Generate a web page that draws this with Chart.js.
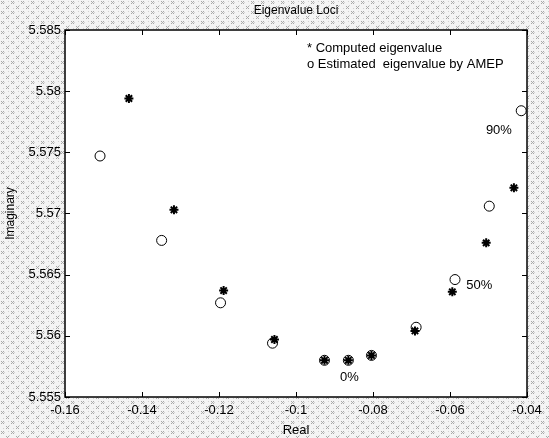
<!DOCTYPE html>
<html>
<head>
<meta charset="utf-8">
<script src="https://cdn.jsdelivr.net/npm/chart.js@4.4.1/dist/chart.umd.min.js"></script>
<style>
  html, body { margin: 0; padding: 0; background: #fff; }
  #wrap { width: 549px; height: 438px; }
</style>
</head>
<body>
<div id="wrap"><canvas id="loci" width="549" height="438"></canvas></div>
<script>
// computed eigenvalues (*)
const computedRe = [-0.1434, -0.1317, -0.1188, -0.1056, -0.0926, -0.0864, -0.0804, -0.0691, -0.0594, -0.0506, -0.0434];
const computedIm = [5.5794, 5.5703, 5.5637, 5.5597, 5.5580, 5.5580, 5.5584, 5.5604, 5.5636, 5.5676, 5.5721];

// estimated eigenvalues by AMEP (o)
const estimatedRe = [-0.1509, -0.1349, -0.1196, -0.1061, -0.0926, -0.0864, -0.0804, -0.0688, -0.0587, -0.0498, -0.0415];
const estimatedIm = [5.5747, 5.5678, 5.5627, 5.5594, 5.5580, 5.5580, 5.5584, 5.5607, 5.5646, 5.5706, 5.5784];

// percentage labels on the curve
const pctText = ['90%', '50%', '0%'];
const pctRe = [-0.0473, -0.0524, -0.0861];
const pctIm = [5.5768, 5.5641, 5.5566];

const legendLines = ['* Computed eigenvalue', 'o Estimated  eigenvalue by AMEP'];

const realRange = [-0.16, -0.04, 0.02];
const imagRange = [5.555, 5.585, 0.005];

const toPoints = (xs, ys) => xs.map((x, i) => ({ x, y: ys[i] }));
const fmt = (v) => String(Number(v.toFixed(4)));

// scanned-paper look of the figure background
function makeDither() {
  const c = document.createElement('canvas');
  c.width = 10;
  c.height = 10;
  const g = c.getContext('2d');
  g.fillStyle = '#f4f4f4';
  g.fillRect(0, 0, 10, 10);
  g.fillStyle = '#a8a8a8';
  [[1, 1], [6, 6]].forEach(([ox, oy]) => {
    [[0, 0], [2, 0], [1, 1], [0, 2], [2, 2]].forEach(([dx, dy]) => g.fillRect(ox + dx, oy + dy, 1, 1));
  });
  g.fillStyle = '#d0d0d0';
  [[4, 2], [8, 1], [3, 8], [9, 5]].forEach(([px, py]) => g.fillRect(px, py, 1, 1));
  return c;
}

const matlabFrame = {
  id: 'matlabFrame',
  beforeDraw(chart) {
    const { ctx, chartArea: a } = chart;
    ctx.save();
    ctx.fillStyle = ctx.createPattern(makeDither(), 'repeat');
    ctx.fillRect(0, 0, chart.width, chart.height);
    ctx.fillStyle = '#fff';
    ctx.fillRect(a.left, a.top, a.right - a.left, a.bottom - a.top);
    ctx.restore();
  },
  afterDraw(chart) {
    const { ctx, chartArea: a, scales: { x, y } } = chart;
    ctx.save();
    ctx.strokeStyle = '#000';
    ctx.lineWidth = 1.5;
    ctx.strokeRect(a.left, a.top, a.right - a.left, a.bottom - a.top);

    // inward ticks on all four sides
    ctx.lineWidth = 1;
    ctx.beginPath();
    x.ticks.forEach((t) => {
      const px = Math.round(x.getPixelForValue(t.value)) + 0.5;
      ctx.moveTo(px, a.bottom); ctx.lineTo(px, a.bottom - 5);
      ctx.moveTo(px, a.top); ctx.lineTo(px, a.top + 5);
    });
    y.ticks.forEach((t) => {
      const py = Math.round(y.getPixelForValue(t.value)) + 0.5;
      ctx.moveTo(a.left, py); ctx.lineTo(a.left + 5, py);
      ctx.moveTo(a.right, py); ctx.lineTo(a.right - 5, py);
    });
    ctx.stroke();

    ctx.fillStyle = '#000';
    ctx.font = '12px Arial, "Liberation Sans"';
    ctx.textAlign = 'center';
    ctx.textBaseline = 'middle';
    ctx.fillText('Eigenvalue Loci', (a.left + a.right) / 2, 11);

    ctx.font = '13px Arial, "Liberation Sans"';
    pctText.forEach((s, i) => {
      ctx.fillText(s, x.getPixelForValue(pctRe[i]), y.getPixelForValue(pctIm[i]));
    });

    ctx.textAlign = 'left';
    legendLines.forEach((s, i) => {
      ctx.fillText(s, 307, 48 + i * 16);
    });
    ctx.restore();
  },
};

new Chart(document.getElementById('loci'), {
  type: 'scatter',
  data: {
    datasets: [
      {
        label: 'Estimated eigenvalue by AMEP',
        data: toPoints(estimatedRe, estimatedIm),
        pointStyle: 'circle',
        pointRadius: 5,
        borderWidth: 1,
        borderColor: '#000',
        backgroundColor: 'rgba(0,0,0,0)',
      },
      {
        label: 'Computed eigenvalue',
        data: toPoints(computedRe, computedIm),
        pointStyle: 'star',
        pointRadius: 4.5,
        borderWidth: 2,
        borderColor: '#000',
        backgroundColor: '#000',
      },
    ],
  },
  options: {
    responsive: false,
    animation: false,
    layout: { padding: { top: 30, right: 22, left: 3, bottom: 0 } },
    plugins: {
      legend: { display: false },
      tooltip: { enabled: false },
    },
    scales: {
      x: {
        type: 'linear',
        min: realRange[0],
        max: realRange[1],
        afterFit: (s) => { s.height = 41; },
        grid: { display: false, drawTicks: false },
        border: { display: false },
        ticks: {
          stepSize: realRange[2],
          padding: 6,
          color: '#000',
          font: { family: 'Arial, "Liberation Sans"', size: 13 },
          callback: (v) => fmt(v),
        },
        title: {
          display: true,
          text: 'Real',
          color: '#000',
          padding: { top: 0, bottom: 0 },
          font: { family: 'Arial, "Liberation Sans"', size: 13 },
        },
      },
      y: {
        type: 'linear',
        min: imagRange[0],
        max: imagRange[1],
        afterFit: (s) => { s.width = 62; },
        grid: { display: false, drawTicks: false },
        border: { display: false },
        ticks: {
          stepSize: imagRange[2],
          padding: 4,
          color: '#000',
          font: { family: 'Arial, "Liberation Sans"', size: 13 },
          callback: (v) => fmt(v),
        },
        title: {
          display: true,
          text: 'Imaginary',
          color: '#000',
          padding: { top: 0, bottom: 0 },
          font: { family: 'Arial, "Liberation Sans"', size: 12 },
        },
      },
    },
  },
  plugins: [matlabFrame],
});
</script>
</body>
</html>
